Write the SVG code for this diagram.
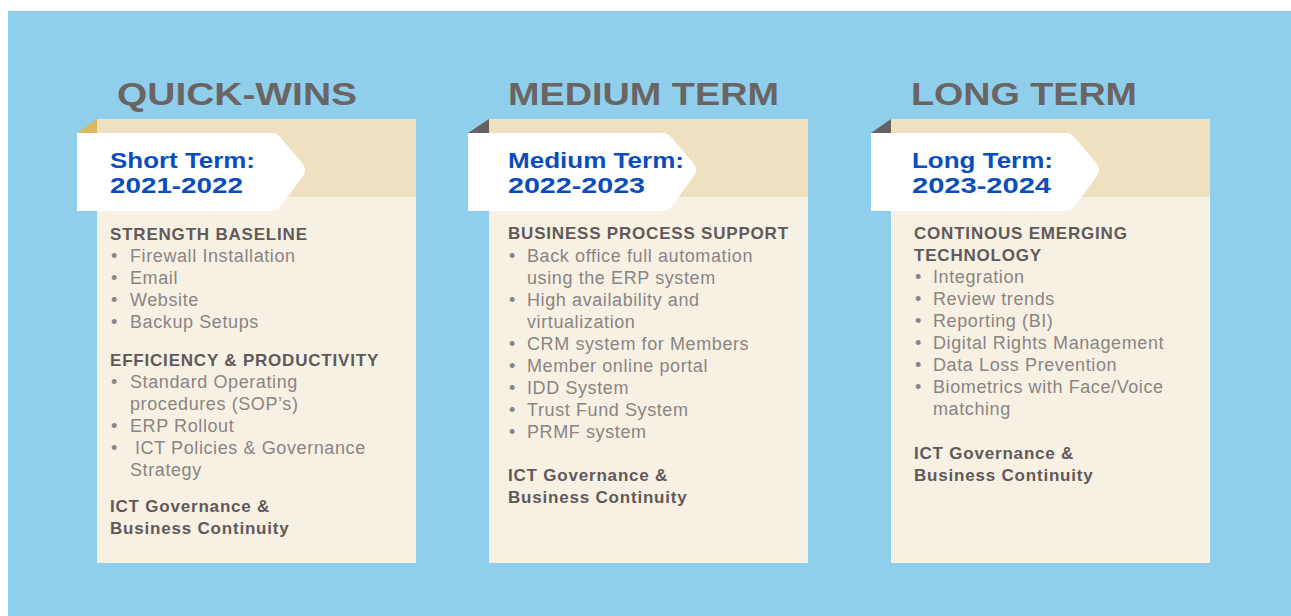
<svg xmlns="http://www.w3.org/2000/svg" width="1291" height="616" viewBox="0 0 1291 616">
<style>
.title{font-family:"Liberation Sans",Arial,sans-serif;font-weight:bold;font-size:31px;fill:#6a6463}
.tab{font-family:"Liberation Sans",Arial,sans-serif;font-weight:bold;font-size:22.5px;fill:#0b4dba}
.h{font-family:"Liberation Sans",Arial,sans-serif;font-weight:bold;font-size:17px;fill:#5f5a59;letter-spacing:0.8px}
.b{font-family:"Liberation Sans",Arial,sans-serif;font-size:18px;fill:#8a8482;letter-spacing:0.6px}
.body{fill:#f7f1e4}
.head{fill:#efe1bf}
.tabshape{fill:#ffffff}
</style>
<defs>
<path id="tabpath" d="M0,0 H194 Q200,0 204,5 L226,31 Q230,37 226,43 L204,73 Q200,78 194,78 H0 Z"/>
</defs>
<rect x="0" y="0" width="1291" height="616" fill="#ffffff"/>
<rect x="8" y="11" width="1283" height="605" fill="#8fcfeb"/>

<g id="card-quick-wins">
<text class="title" x="117" y="105" textLength="240" lengthAdjust="spacingAndGlyphs">QUICK-WINS</text>
<rect class="body" x="97" y="119" width="319" height="444"/>
<rect class="head" x="97" y="119" width="319" height="78"/>
<polygon points="77,133 97,119 97,133" fill="#dbb85c"/>
<use href="#tabpath" x="77" y="133" class="tabshape"/>
<text class="tab" x="110" y="168" textLength="145" lengthAdjust="spacingAndGlyphs">Short Term:</text>
<text class="tab" x="110" y="193" textLength="133" lengthAdjust="spacingAndGlyphs">2021-2022</text>
<text class="h" x="110" y="240">STRENGTH BASELINE</text>
<text class="b" x="111" y="262">•</text><text class="b" x="130" y="262">Firewall Installation</text>
<text class="b" x="111" y="284">•</text><text class="b" x="130" y="284">Email</text>
<text class="b" x="111" y="306">•</text><text class="b" x="130" y="306">Website</text>
<text class="b" x="111" y="328">•</text><text class="b" x="130" y="328">Backup Setups</text>
<text class="h" x="110" y="366">EFFICIENCY &amp; PRODUCTIVITY</text>
<text class="b" x="111" y="388">•</text><text class="b" x="130" y="388">Standard Operating</text>
<text class="b" x="130" y="410">procedures (SOP’s)</text>
<text class="b" x="111" y="432">•</text><text class="b" x="130" y="432">ERP Rollout</text>
<text class="b" x="111" y="454">•</text><text class="b" x="135" y="454">ICT Policies &amp; Governance</text>
<text class="b" x="130" y="476">Strategy</text>
<text class="h" x="110" y="512">ICT Governance &amp;</text>
<text class="h" x="110" y="534">Business Continuity</text>
</g>

<g id="card-medium-term">
<text class="title" x="508" y="105" textLength="271" lengthAdjust="spacingAndGlyphs">MEDIUM TERM</text>
<rect class="body" x="489" y="119" width="319" height="444"/>
<rect class="head" x="489" y="119" width="319" height="78"/>
<polygon points="468,133 489,119 489,133" fill="#666262"/>
<use href="#tabpath" x="468" y="133" class="tabshape"/>
<text class="tab" x="508" y="168" textLength="176" lengthAdjust="spacingAndGlyphs">Medium Term:</text>
<text class="tab" x="508" y="193" textLength="137" lengthAdjust="spacingAndGlyphs">2022-2023</text>
<text class="h" x="508" y="239">BUSINESS PROCESS SUPPORT</text>
<text class="b" x="509" y="262">•</text><text class="b" x="527" y="262">Back office full automation</text>
<text class="b" x="527" y="284">using the ERP system</text>
<text class="b" x="509" y="306">•</text><text class="b" x="527" y="306">High availability and</text>
<text class="b" x="527" y="328">virtualization</text>
<text class="b" x="509" y="350">•</text><text class="b" x="527" y="350">CRM system for Members</text>
<text class="b" x="509" y="372">•</text><text class="b" x="527" y="372">Member online portal</text>
<text class="b" x="509" y="394">•</text><text class="b" x="527" y="394">IDD System</text>
<text class="b" x="509" y="416">•</text><text class="b" x="527" y="416">Trust Fund System</text>
<text class="b" x="509" y="438">•</text><text class="b" x="527" y="438">PRMF system</text>
<text class="h" x="508" y="481">ICT Governance &amp;</text>
<text class="h" x="508" y="503">Business Continuity</text>
</g>

<g id="card-long-term">
<text class="title" x="911" y="105" textLength="226" lengthAdjust="spacingAndGlyphs">LONG TERM</text>
<rect class="body" x="891" y="119" width="319" height="444"/>
<rect class="head" x="891" y="119" width="319" height="78"/>
<polygon points="871,133 891,119 891,133" fill="#666262"/>
<use href="#tabpath" x="871" y="133" class="tabshape"/>
<text class="tab" x="912" y="168" textLength="141" lengthAdjust="spacingAndGlyphs">Long Term:</text>
<text class="tab" x="912" y="193" textLength="139" lengthAdjust="spacingAndGlyphs">2023-2024</text>
<text class="h" x="914" y="239">CONTINOUS EMERGING</text>
<text class="h" x="914" y="261">TECHNOLOGY</text>
<text class="b" x="915" y="283">•</text><text class="b" x="933" y="283">Integration</text>
<text class="b" x="915" y="305">•</text><text class="b" x="933" y="305">Review trends</text>
<text class="b" x="915" y="327">•</text><text class="b" x="933" y="327">Reporting (BI)</text>
<text class="b" x="915" y="349">•</text><text class="b" x="933" y="349">Digital Rights Management</text>
<text class="b" x="915" y="371">•</text><text class="b" x="933" y="371">Data Loss Prevention</text>
<text class="b" x="915" y="393">•</text><text class="b" x="933" y="393">Biometrics with Face/Voice</text>
<text class="b" x="933" y="415">matching</text>
<text class="h" x="914" y="459">ICT Governance &amp;</text>
<text class="h" x="914" y="481">Business Continuity</text>
</g>
</svg>
